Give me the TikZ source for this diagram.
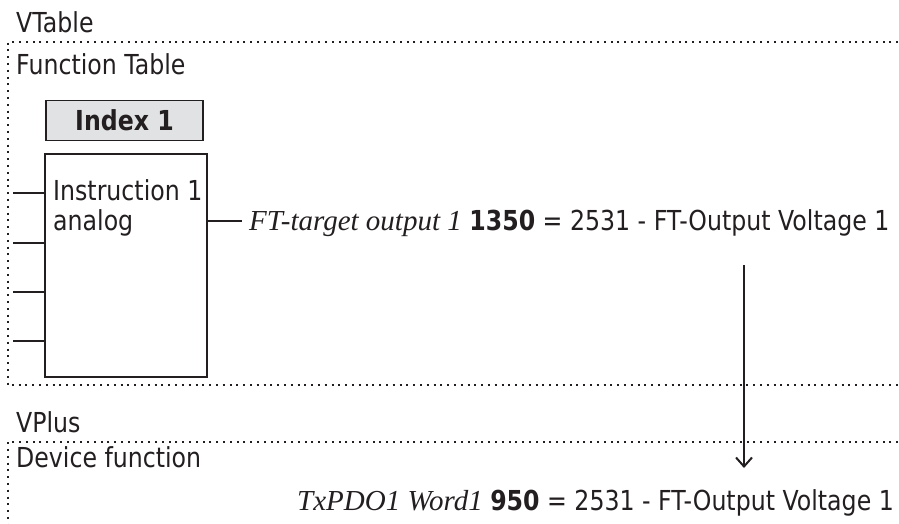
\documentclass[tikz,border=0pt]{standalone}
\usepackage{fontspec}
\setmainfont[FakeStretch=0.86]{DejaVu Sans}
\newfontfamily\tnr{Liberation Serif}
\usetikzlibrary{arrows.meta}
\definecolor{ink}{HTML}{231F20}
\definecolor{idxfill}{HTML}{E1E2E3}
\newcommand{\sansfs}{\fontsize{27.5}{33}\selectfont}
\newcommand{\serfs}{\tnr\itshape\fontsize{29}{33}\selectfont}
\tikzset{
  lbl/.style={anchor=base west,inner sep=0pt,text=ink,font=\sansfs},
  dotbox/.style={line width=2pt,dash pattern=on 2pt off 4.8pt,draw=ink},
  blk/.style={draw=ink,line width=1.5pt,inner sep=0pt},
  stub/.style={draw=ink,line width=2pt},
}
\begin{document}
\begin{tikzpicture}[x=1pt,y=-1pt]
\useasboundingbox (0,0) rectangle (899,524);
% dotted frames (open to the right / bottom)
\draw[dotbox] (905,42.5) -- (7.5,42.5) -- (7.5,385) -- (905,385);
\draw[dotbox] (905,442) -- (7.5,442) -- (7.5,530);
% headings
\node[lbl] (vt) at (16,33) {VTable};
\node[lbl] (ft) at (16,75) {Function Table};
\node[lbl] (vp) at (16,432) {VPlus};
\node[lbl] (df) at (16,467) {Device function};
% index box
\node[blk,fill=idxfill,minimum width=157pt,minimum height=40pt,text=ink,font=\sansfs\bfseries] (idx) at (124.5,120.5) {Index 1};
% instruction box
\node[blk,fill=white,minimum width=162pt,minimum height=223pt] (ins) at (126,265.5) {};
\node[lbl] (i1) at (53,200) {Instruction 1};
\node[lbl] (an) at (53,230) {analog};
% input stubs
\coordinate (s1) at (13,193);
\coordinate (s2) at (13,243);
\coordinate (s3) at (13,292);
\coordinate (s4) at (13,341);
\foreach \s in {s1,s2,s3,s4} \draw[stub] (\s) -- (\s -| ins.west);
% output text
\node[lbl] (out1) at (249,230) {{\serfs FT-target output 1} \textbf{1350} = 2531 - FT-Output Voltage 1};
\node[lbl] (out2) at (297,510) {{\serfs TxPDO1 Word1} \textbf{950} = 2531 - FT-Output Voltage 1};
\coordinate (o1) at (0,221);
\draw[stub] (ins.east |- o1) -- ([xshift=-7pt]out1.west |- o1);
% arrow
\coordinate (a1) at (744,265);
\coordinate (a2) at (744,468);
\draw[stub,-{Straight Barb[length=9pt,width=16pt,line width=2pt]}] (a1) -- (a2);
\end{tikzpicture}
\end{document}
